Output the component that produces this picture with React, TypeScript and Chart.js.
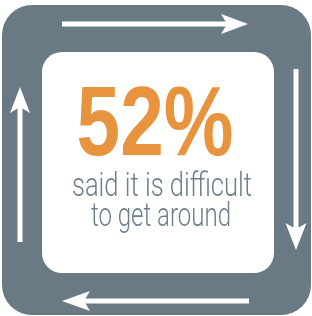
import React, { useEffect, useRef } from "react";
import { Chart, registerables } from "chart.js";

Chart.register(...registerables);

// ---- data ----
const statValues = [52];
const statSuffix = "%";
const captionLines = ["said it is difficult", "to get around"];

// ---- styles ----
const FRAME = "#6a7a84";
const ORANGE = "#e8943f";
const TEXT_GRAY = "#6e7e88";
const WHITE = "#ffffff";

function roundRect(ctx: CanvasRenderingContext2D, x: number, y: number, w: number, h: number, r: number) {
  ctx.beginPath();
  ctx.moveTo(x + r, y);
  ctx.lineTo(x + w - r, y);
  ctx.arcTo(x + w, y, x + w, y + r, r);
  ctx.lineTo(x + w, y + h - r);
  ctx.arcTo(x + w, y + h, x + w - r, y + h, r);
  ctx.lineTo(x + r, y + h);
  ctx.arcTo(x, y + h, x, y + h - r, r);
  ctx.lineTo(x, y + r);
  ctx.arcTo(x, y, x + r, y, r);
  ctx.closePath();
}

function arrow(
  ctx: CanvasRenderingContext2D,
  sx: number, sy: number, tx: number, ty: number,
  shaftW: number, headLen: number, headHalf: number, notch: number
) {
  const len = Math.hypot(tx - sx, ty - sy);
  const dx = (tx - sx) / len;
  const dy = (ty - sy) / len;
  const nx = -dy;
  const ny = dx;
  const nX = tx - dx * (headLen - notch);
  const nY = ty - dy * (headLen - notch);
  ctx.fillStyle = WHITE;
  ctx.beginPath();
  ctx.moveTo(sx + nx * shaftW / 2, sy + ny * shaftW / 2);
  ctx.lineTo(nX + dx * 2 + nx * shaftW / 2, nY + dy * 2 + ny * shaftW / 2);
  ctx.lineTo(nX + dx * 2 - nx * shaftW / 2, nY + dy * 2 - ny * shaftW / 2);
  ctx.lineTo(sx - nx * shaftW / 2, sy - ny * shaftW / 2);
  ctx.closePath();
  ctx.fill();
  const bX = tx - dx * headLen;
  const bY = ty - dy * headLen;
  ctx.beginPath();
  ctx.moveTo(tx, ty);
  ctx.lineTo(bX + nx * headHalf, bY + ny * headHalf);
  ctx.lineTo(nX, nY);
  ctx.lineTo(bX - nx * headHalf, bY - ny * headHalf);
  ctx.closePath();
  ctx.fill();
}

function fitText(
  ctx: CanvasRenderingContext2D, text: string, font: string, color: string,
  cx: number, baseline: number, targetW: number
) {
  ctx.save();
  ctx.font = font;
  ctx.fillStyle = color;
  ctx.textAlign = "center";
  ctx.textBaseline = "alphabetic";
  const w = ctx.measureText(text).width;
  const s = targetW / w;
  ctx.translate(cx, baseline);
  ctx.scale(s, 1);
  ctx.fillText(text, 0, 0);
  ctx.restore();
}

const infographicPlugin = {
  id: "infographic",
  beforeDraw(chart: any) {
    const ctx: CanvasRenderingContext2D = chart.ctx;
    ctx.save();
    ctx.fillStyle = FRAME;
    roundRect(ctx, 2, 5, 309, 310, 30);
    ctx.fill();
    ctx.fillStyle = WHITE;
    roundRect(ctx, 42, 52, 232, 221, 20);
    ctx.fill();
    arrow(ctx, 62, 24, 248, 24, 5, 27, 10, 6);
    arrow(ctx, 296, 69, 296, 250, 5, 27, 10.5, 6);
    arrow(ctx, 249, 301, 62, 301, 5, 28, 10, 6);
    arrow(ctx, 20, 242, 20, 87, 5, 26, 10, 6);
    const statText = String(statValues[0]) + statSuffix;
    fitText(ctx, statText, "bold 99px 'Liberation Sans Narrow', 'Liberation Sans', sans-serif", ORANGE, 155, 155, 157);
    fitText(ctx, captionLines[0], "300 34px Roboto, 'Liberation Sans Narrow', sans-serif", TEXT_GRAY, 162, 196, 180);
    fitText(ctx, captionLines[1], "300 34px Roboto, 'Liberation Sans Narrow', sans-serif", TEXT_GRAY, 161, 226, 140);
    ctx.restore();
  },
};

export default function App() {
  const ref = useRef<HTMLCanvasElement | null>(null);
  useEffect(() => {
    document.body.style.margin = "0";
    const canvas = ref.current;
    if (!canvas) return;
    const chart = new Chart(canvas, {
      type: "bar",
      data: { labels: [], datasets: [{ data: [] }] },
      options: {
        responsive: false,
        animation: false,
        devicePixelRatio: 1,
        plugins: { legend: { display: false }, tooltip: { enabled: false } },
        scales: { x: { display: false }, y: { display: false } },
      },
      plugins: [infographicPlugin],
    });
    return () => chart.destroy();
  }, []);
  return (
    <div style={{ width: 312, height: 316 }}>
      <canvas ref={ref} width={312} height={316} style={{ display: "block" }} />
    </div>
  );
}
